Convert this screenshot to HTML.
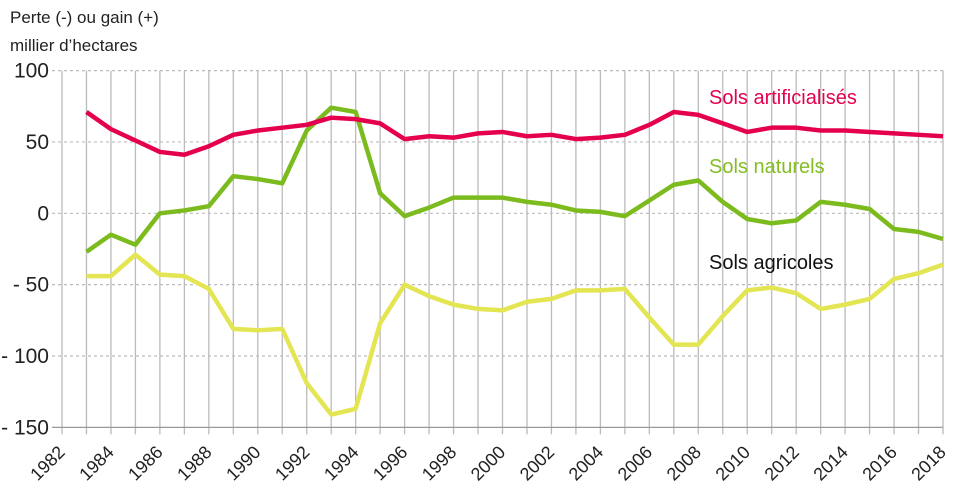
<!DOCTYPE html>
<html><head><meta charset="utf-8"><style>
body{margin:0;background:#fff;}
svg{display:block;font-family:"Liberation Sans",sans-serif;}
</style></head><body>
<svg id="chart" width="967" height="494">
<text x="10" y="23" font-size="17" fill="#222">Perte (-) ou gain (+)</text>
<text x="10" y="51" font-size="17" fill="#222">millier d’hectares</text>
<g id="grid"></g><g id="lines"></g><g id="labels"></g>
<text x="709" y="104" font-size="20" fill="#e5004f">Sols artificialisés</text>
<text x="709" y="173" font-size="20" fill="#84be22">Sols naturels</text>
<text x="709" y="269" font-size="20" fill="#111">Sols agricoles</text>
</svg>
<script>
const years=[1983,1984,1985,1986,1987,1988,1989,1990,1991,1992,1993,1994,1995,1996,1997,1998,1999,2000,2001,2002,2003,2004,2005,2006,2007,2008,2009,2010,2011,2012,2013,2014,2015,2016,2017,2018];
const artificial=[71,59,51,43,41,47,55,58,60,62,67,66,63,52,54,53,56,57,54,55,52,53,55,62,71,69,63,57,60,60,58,58,57,56,55,54];
const natural=[-27,-15,-22,0,2,5,26,24,21,58,74,71,14,-2,4,11,11,11,8,6,2,1,-2,9,20,23,8,-4,-7,-5,8,6,3,-11,-13,-18];
const agricultural=[-44,-44,-29,-43,-44,-53,-81,-82,-81,-119,-141,-137,-77,-50,-58,-64,-67,-68,-62,-60,-54,-54,-53,-73,-92,-92,-72,-54,-52,-56,-67,-64,-60,-46,-42,-36];
const yTicks=[100,50,0,-50,-100,-150];
const yTickLabels=["100","50","0","- 50","- 100","- 150"];
const xMin=1982,xMax=2018;
const X=y=>62+(y-xMin)*(943-62)/(xMax-xMin);
const Y=v=>213.3-v*1.427;
const NS="http://www.w3.org/2000/svg";
function mk(t,a,p){const e=document.createElementNS(NS,t);for(const k in a)e.setAttribute(k,a[k]);p.appendChild(e);return e;}
const grid=document.getElementById('grid'),lines=document.getElementById('lines'),labels=document.getElementById('labels');
for(let yr=xMin;yr<=xMax;yr++){
  const l=mk('line',{x1:X(yr),x2:X(yr),y1:Y(100),y2:Y(-150)+7,stroke:'#bbb','stroke-width':1.3},grid);
  
  
  if(yr%2===0){
    const t=mk('text',{x:X(yr)+4,y:Y(-150)+26,'font-size':18,fill:'#222','text-anchor':'end',transform:`rotate(-45 ${X(yr)+4} ${Y(-150)+26})`},labels);
    t.textContent=yr;
    
    
  }
}
yTicks.forEach((v,i)=>{
  const l=mk('line',{x1:52,x2:943,y1:Y(v),y2:Y(v),stroke:v===-150?'#999':'#bbb','stroke-width':1.2,'stroke-dasharray':v===-150?'':'3,3'},grid);
  
  
  const t=mk('text',{x:49,y:Y(v)+7,'font-size':21,fill:'#222','text-anchor':'end'},labels);
  t.textContent=yTickLabels[i];
  
  
});
function series(vals,color,name){
  const p=mk('polyline',{points:vals.map((v,i)=>X(years[i])+','+Y(v)).join(' '),fill:'none',stroke:color,'stroke-width':4.5,'stroke-linejoin':'round'},lines);
  
  
}
series(agricultural,'#e3e552','line-agricultural');
series(natural,'#7cbb1e','line-natural');
series(artificial,'#e5004f','line-artificial');
</script>
</body></html>
